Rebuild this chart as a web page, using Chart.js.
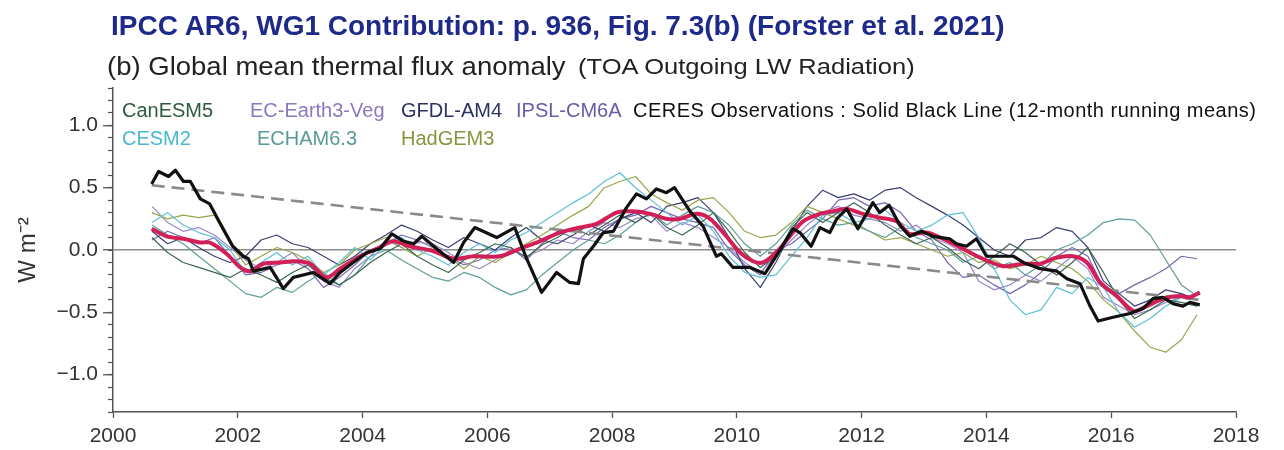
<!DOCTYPE html>
<html>
<head>
<meta charset="utf-8">
<script src="https://cdn.jsdelivr.net/npm/chart.js@4.4.0/dist/chart.umd.min.js"></script>
<style>
  body { margin: 0; background: #fff; font-family: "Liberation Sans", Arial, sans-serif; }
  #wrap { position: relative; width: 1284px; height: 450px; }
  canvas { position: absolute; left: 0; top: 0; }
  .t { position: absolute; white-space: nowrap; line-height: 1; transform-origin: left top; }
  #title { left: 111px; top: 12px; font-size: 28px; font-weight: bold; color: #1d2a8a; }
  #sub1 { left: 107px; top: 54px; font-size: 25px; color: #222; transform: scaleX(1.1); }
  #sub2 { left: 578px; top: 56px; font-size: 22px; color: #222; transform: scaleX(1.16); }
  .lg { font-size: 20px; }
</style>
</head>
<body>
<div id="wrap">
  <canvas id="myChart" width="1284" height="450"></canvas>
  <div class="t" id="title">IPCC AR6, WG1 Contribution: p. 936, Fig. 7.3(b) (Forster et al. 2021)</div>
  <div class="t" id="sub1">(b) Global mean thermal flux anomaly</div>
  <div class="t" id="sub2">(TOA Outgoing LW Radiation)</div>
  <div class="t lg" style="left:122px;top:100px;color:#2f5a40">CanESM5</div>
  <div class="t lg" style="left:250px;top:100px;color:#8c78c0">EC-Earth3-Veg</div>
  <div class="t lg" style="left:401px;top:100px;color:#2c3262">GFDL-AM4</div>
  <div class="t lg" style="left:516px;top:100px;color:#6a5aa8">IPSL-CM6A</div>
  <div class="t lg" style="left:633px;top:100px;color:#111;letter-spacing:0.5px">CERES Observations : Solid Black Line (12-month running means)</div>
  <div class="t lg" style="left:122px;top:128px;color:#48b8d0">CESM2</div>
  <div class="t lg" style="left:257px;top:128px;color:#5a9a96">ECHAM6.3</div>
  <div class="t lg" style="left:401px;top:128px;color:#8a9440">HadGEM3</div>
</div>
<script>
// CERES 12-month running mean
const ceresYears = [2000.62, 2000.73, 2000.89, 2001.00, 2001.13, 2001.24, 2001.40, 2001.55, 2001.71, 2001.92,
  2002.09, 2002.17, 2002.25, 2002.52, 2002.73, 2002.89, 2003.21, 2003.48, 2003.64, 2003.85,
  2004.07, 2004.28, 2004.47, 2004.66, 2004.82, 2004.95, 2005.14, 2005.46, 2005.62, 2005.80,
  2006.15, 2006.44, 2006.63, 2006.87, 2007.11, 2007.32, 2007.46, 2007.54, 2007.70, 2007.86,
  2008.02, 2008.23, 2008.39, 2008.55, 2008.71, 2008.87, 2009.00, 2009.25, 2009.46, 2009.67,
  2009.75, 2009.94, 2010.21, 2010.45, 2010.63, 2010.90, 2011.01, 2011.19, 2011.33, 2011.49,
  2011.60, 2011.76, 2011.94, 2012.18, 2012.29, 2012.44, 2012.61, 2012.77, 2012.96, 2013.14,
  2013.41, 2013.52, 2013.68, 2013.84, 2014.00, 2014.27, 2014.43, 2014.59, 2014.86, 2015.13,
  2015.29, 2015.50, 2015.66, 2015.79, 2016.03, 2016.30, 2016.51, 2016.67, 2016.83, 2016.99,
  2017.15, 2017.26, 2017.42];
const ceresValues = [0.53, 0.63, 0.59, 0.64, 0.55, 0.55, 0.41, 0.37, 0.22, 0.03,
  -0.05, -0.07, -0.17, -0.14, -0.31, -0.22, -0.18, -0.27, -0.18, -0.10,
  -0.02, 0.01, 0.13, 0.07, 0.05, 0.11, 0.03, -0.10, 0.06, 0.18,
  0.10, 0.18, -0.07, -0.34, -0.18, -0.26, -0.27, -0.07, 0.03, 0.14,
  0.15, 0.34, 0.45, 0.41, 0.49, 0.46, 0.50, 0.31, 0.19, -0.05,
  -0.03, -0.14, -0.14, -0.19, -0.05, 0.17, 0.14, 0.03, 0.18, 0.14,
  0.25, 0.33, 0.17, 0.38, 0.30, 0.36, 0.20, 0.11, 0.15, 0.11,
  0.09, 0.05, 0.03, 0.09, -0.05, -0.05, -0.05, -0.10, -0.15, -0.17,
  -0.23, -0.27, -0.45, -0.57, -0.54, -0.51, -0.47, -0.39, -0.38, -0.43,
  -0.45, -0.42, -0.44];

// multi-model mean (thick red)
const meanYears = [2000.62, 2000.86, 2001.13, 2001.40, 2001.55, 2001.82, 2002.04, 2002.20, 2002.41, 2002.68,
  2002.94, 2003.16, 2003.42, 2003.64, 2003.96, 2004.23, 2004.49, 2004.76, 2005.14, 2005.46,
  2005.78, 2006.20, 2006.52, 2006.84, 2007.16, 2007.48, 2007.75, 2008.07, 2008.33, 2008.61,
  2008.87, 2009.09, 2009.35, 2009.57, 2009.83, 2010.05, 2010.26, 2010.42, 2010.63, 2010.85,
  2011.06, 2011.33, 2011.54, 2011.76, 2012.02, 2012.29, 2012.56, 2012.77, 2013.04, 2013.30,
  2013.62, 2013.94, 2014.27, 2014.59, 2014.86, 2015.13, 2015.39, 2015.61, 2015.82, 2016.09,
  2016.36, 2016.57, 2016.84, 2017.10, 2017.26, 2017.42];
const meanValues = [0.17, 0.11, 0.09, 0.06, 0.06, -0.03, -0.14, -0.17, -0.11, -0.10,
  -0.09, -0.11, -0.22, -0.15, -0.05, 0.01, 0.07, 0.03, -0.01, -0.07,
  -0.05, -0.05, 0.01, 0.07, 0.14, 0.18, 0.21, 0.30, 0.31, 0.29,
  0.25, 0.25, 0.29, 0.25, 0.11, -0.02, -0.09, -0.10, -0.02, 0.11,
  0.23, 0.29, 0.31, 0.33, 0.29, 0.26, 0.23, 0.13, 0.14, 0.09,
  0.01, -0.07, -0.13, -0.11, -0.11, -0.06, -0.05, -0.10, -0.26, -0.37,
  -0.49, -0.45, -0.39, -0.37, -0.38, -0.34];

// CERES linear trend (grey dashed)
const trendYears = [2000.62, 2017.42];
const trendValues = [0.52, -0.40];

// individual models, sampled quarterly
const modelYears = [2000.625, 2000.875, 2001.125, 2001.375, 2001.625, 2001.875, 2002.125, 2002.375,
  2002.625, 2002.875, 2003.125, 2003.375, 2003.625, 2003.875, 2004.125, 2004.375,
  2004.625, 2004.875, 2005.125, 2005.375, 2005.625, 2005.875, 2006.125, 2006.375,
  2006.625, 2006.875, 2007.125, 2007.375, 2007.625, 2007.875, 2008.125, 2008.375,
  2008.625, 2008.875, 2009.125, 2009.375, 2009.625, 2009.875, 2010.125, 2010.375,
  2010.625, 2010.875, 2011.125, 2011.375, 2011.625, 2011.875, 2012.125, 2012.375,
  2012.625, 2012.875, 2013.125, 2013.375, 2013.625, 2013.875, 2014.125, 2014.375,
  2014.625, 2014.875, 2015.125, 2015.375, 2015.625, 2015.875, 2016.125, 2016.375,
  2016.625, 2016.875, 2017.125, 2017.375];

const canESM5 = [0.10, -0.02, -0.10, -0.14, -0.18, -0.22, -0.15, -0.20,
  -0.26, -0.18, -0.12, -0.22, -0.28, -0.20, -0.10, -0.02,
  0.05, -0.05, -0.12, -0.18, -0.08, -0.02, 0.05, 0.02,
  -0.06, 0.04, 0.10, 0.18, 0.12, 0.20, 0.28, 0.22,
  0.30, 0.18, 0.12, 0.20, 0.30, 0.15, -0.02, -0.14,
  -0.05, 0.18, 0.30, 0.22, 0.30, 0.38, 0.30, 0.20,
  0.12, 0.05, 0.10, 0.02, -0.08, -0.15, -0.05, 0.05,
  -0.02, -0.12, -0.20, -0.10, 0.02, -0.18, -0.40, -0.55,
  -0.48, -0.40, -0.42, -0.45];
const cesm2 = [0.22, 0.30, 0.20, 0.14, 0.10, 0.00, -0.18, -0.10,
  -0.02, -0.12, -0.05, -0.20, -0.10, 0.02, -0.08, 0.05,
  0.10, 0.00, -0.05, -0.12, -0.02, 0.05, -0.02, 0.08,
  0.14, 0.22, 0.30, 0.38, 0.45, 0.55, 0.62, 0.50,
  0.40, 0.30, 0.20, 0.28, 0.15, -0.05, -0.18, -0.22,
  -0.20, -0.05, 0.10, 0.28, 0.30, 0.22, 0.25, 0.32,
  0.22, 0.15, 0.20, 0.28, 0.30, 0.10, -0.15, -0.40,
  -0.52, -0.48, -0.30, -0.35, -0.22, -0.30, -0.50, -0.62,
  -0.55, -0.45, -0.38, -0.40];
const echam63 = [0.20, 0.12, 0.05, -0.05, -0.15, -0.25, -0.35, -0.38,
  -0.30, -0.34, -0.25, -0.18, -0.28, -0.20, -0.05, 0.00,
  -0.08, -0.15, -0.22, -0.25, -0.18, -0.22, -0.30, -0.36,
  -0.32, -0.20, -0.10, 0.00, 0.08, 0.05, 0.12, 0.22,
  0.30, 0.20, 0.28, 0.35, 0.30, 0.20, 0.05, -0.05,
  0.05, 0.20, 0.32, 0.25, 0.20, 0.22, 0.15, 0.10,
  0.18, 0.10, 0.05, 0.00, -0.10, -0.05, -0.15, -0.10,
  -0.20, -0.12, 0.00, 0.05, 0.12, 0.22, 0.25, 0.24,
  0.12, -0.08, -0.28, -0.37];
const hadGEM3 = [0.30, 0.25, 0.28, 0.26, 0.28, 0.05, -0.12, -0.05,
  0.02, -0.02, -0.08, -0.18, -0.12, 0.00, 0.05, 0.10,
  0.02, -0.05, 0.02, -0.05, -0.15, -0.05, -0.10, -0.02,
  0.05, 0.12, 0.20, 0.28, 0.35, 0.50, 0.55, 0.59,
  0.45, 0.38, 0.32, 0.40, 0.42, 0.30, 0.15, 0.10,
  0.12, 0.22, 0.35, 0.30, 0.25, 0.20, 0.15, 0.08,
  0.10, 0.05, 0.00, -0.05, -0.02, -0.10, -0.08, -0.15,
  -0.12, -0.05, -0.10, -0.15, -0.25, -0.40, -0.50, -0.65,
  -0.78, -0.82, -0.72, -0.52];
const gfdlAM4 = [0.15, 0.05, 0.10, 0.02, -0.05, -0.10, -0.05, 0.08,
  0.12, 0.05, 0.02, -0.05, -0.12, -0.05, 0.05, 0.12,
  0.20, 0.15, 0.08, 0.02, 0.10, 0.05, 0.00, 0.10,
  0.18, 0.08, 0.05, 0.12, 0.20, 0.15, 0.25, 0.30,
  0.22, 0.35, 0.38, 0.42, 0.30, 0.10, -0.15, -0.30,
  -0.10, 0.15, 0.35, 0.48, 0.42, 0.45, 0.40, 0.48,
  0.50, 0.42, 0.35, 0.28, 0.20, 0.10, 0.00, -0.05,
  0.08, 0.10, 0.18, 0.15, 0.02, -0.25, -0.35, -0.45,
  -0.40, -0.32, -0.35, -0.40];
const ecEarth3Veg = [0.35, 0.22, 0.15, 0.18, 0.12, 0.02, -0.08, -0.15,
  -0.10, -0.02, -0.15, -0.25, -0.30, -0.15, -0.05, 0.08,
  0.02, 0.06, 0.05, -0.02, -0.10, -0.15, -0.08, 0.00,
  -0.05, 0.00, 0.08, 0.05, 0.15, 0.22, 0.18, 0.25,
  0.28, 0.15, 0.22, 0.18, 0.10, 0.02, -0.10, -0.18,
  -0.05, 0.08, 0.20, 0.30, 0.35, 0.28, 0.25, 0.22,
  0.15, 0.20, 0.10, 0.05, -0.02, -0.25, -0.32, -0.28,
  -0.20, -0.25, -0.15, -0.05, -0.15, -0.38, -0.45, -0.52,
  -0.48, -0.42, -0.38, -0.35];
const ipslCM6A = [0.08, 0.15, 0.10, 0.05, 0.10, -0.05, -0.20, -0.18,
  -0.12, -0.08, -0.15, -0.30, -0.22, -0.12, 0.00, 0.05,
  0.12, 0.08, 0.02, -0.05, -0.12, -0.08, 0.00, 0.02,
  -0.08, 0.05, 0.15, 0.10, 0.08, 0.18, 0.25, 0.28,
  0.35, 0.30, 0.25, 0.22, 0.18, 0.00, -0.12, -0.20,
  0.00, 0.05, 0.15, 0.25, 0.40, 0.42, 0.35, 0.38,
  0.30, 0.15, 0.08, -0.10, -0.22, -0.20, -0.28, -0.35,
  -0.28, -0.18, -0.05, 0.02, -0.05, -0.30, -0.35, -0.28,
  -0.22, -0.15, -0.05, -0.07];

const models = [
  { label: 'CanESM5', values: canESM5, color: '#3d6650' },
  { label: 'CESM2', values: cesm2, color: '#5cc0d8' },
  { label: 'ECHAM6.3', values: echam63, color: '#5f9f9a' },
  { label: 'HadGEM3', values: hadGEM3, color: '#9aa548' },
  { label: 'GFDL-AM4', values: gfdlAM4, color: '#3a4070' },
  { label: 'EC-Earth3-Veg', values: ecEarth3Veg, color: '#9a88c8' },
  { label: 'IPSL-CM6A', values: ipslCM6A, color: '#7868b0' },
];

const xTicks = [2000, 2002, 2004, 2006, 2008, 2010, 2012, 2014, 2016, 2018];

function pairs(xs, ys) {
  return xs.map((x, i) => ({ x: x, y: ys[i] }));
}

function isMultiple(v, step) {
  const r = v / step;
  return Math.abs(r - Math.round(r)) < 1e-6;
}

function fmt(v) {
  if (Math.abs(v) < 1e-9) return '0.0';
  return (v < 0 ? '\u2212' : '') + Math.abs(v).toFixed(1);
}

Chart.defaults.font.family = '"Liberation Sans", Arial, sans-serif';

const datasets = [
  {
    label: 'CERES',
    data: pairs(ceresYears, ceresValues),
    borderColor: '#111111',
    borderWidth: 3.2,
    order: 0,
  },
  {
    label: 'Model mean',
    data: pairs(meanYears, meanValues),
    borderColor: '#d21f57',
    borderWidth: 4,
    tension: 0.3,
    order: 1,
  },
  {
    label: 'CERES trend',
    data: pairs(trendYears, trendValues),
    borderColor: '#8a8a8a',
    borderWidth: 2.6,
    borderDash: [13, 7],
    order: 2,
  },
];
models.forEach(m => {
  datasets.push({
    label: m.label,
    data: pairs(modelYears, m.values),
    borderColor: m.color,
    borderWidth: 1.2,
    order: 3,
  });
});

const ctx = document.getElementById('myChart').getContext('2d');
new Chart(ctx, {
  type: 'line',
  data: { datasets: datasets },
  options: {
    responsive: false,
    animation: false,
    layout: { padding: { top: 88, right: 48, left: 0, bottom: 0 } },
    elements: {
      point: { radius: 0 },
      line: { borderJoinStyle: 'round', fill: false },
    },
    plugins: {
      legend: { display: false },
      tooltip: { enabled: false },
    },
    scales: {
      x: {
        type: 'linear',
        min: 2000,
        max: 2018,
        afterBuildTicks: s => { s.ticks = xTicks.map(v => ({ value: v })); },
        ticks: {
          font: { size: 21 },
          color: '#333',
          padding: 6,
          maxRotation: 0,
          callback: v => String(v),
        },
        grid: { drawOnChartArea: false, tickLength: 6, tickColor: '#555', tickWidth: 1.3 },
        border: { color: '#555', width: 1.5 },
        afterFit: s => { s.height = 38; },
      },
      y: {
        position: 'left',
        weight: 1,
        min: -1.3,
        max: 1.3,
        afterBuildTicks: s => { s.ticks = s.ticks.filter(t => isMultiple(t.value, 0.5)); },
        ticks: {
          stepSize: 0.5,
          font: { size: 21 },
          color: '#333',
          padding: 5,
          callback: v => fmt(v),
        },
        grid: {
          drawOnChartArea: true,
          tickLength: 10,
          tickColor: '#555',
          tickWidth: 1.3,
          lineWidth: 1.5,
          color: c => (c.tick && Math.abs(c.tick.value) < 1e-9) ? '#8c8c8c' : 'rgba(0,0,0,0)',
        },
        border: { color: '#555', width: 1.5 },
        title: {
          display: true,
          text: 'W m\u207B\u00B2',
          font: { size: 24 },
          color: '#333',
          padding: { top: 14, bottom: 0 },
        },
        afterFit: s => { s.width = 113; },
      },
      yMinor: {
        position: 'left',
        weight: 0,
        min: -1.3,
        max: 1.3,
        afterBuildTicks: s => { s.ticks = s.ticks.filter(t => isMultiple(t.value, 0.1)); },
        ticks: { stepSize: 0.1, display: false },
        grid: { drawOnChartArea: false, tickLength: 5, tickColor: '#555', tickWidth: 1.2 },
        border: { display: false },
        afterFit: s => { s.width = 0; },
      },
    },
  },
});
</script>
</body>
</html>
